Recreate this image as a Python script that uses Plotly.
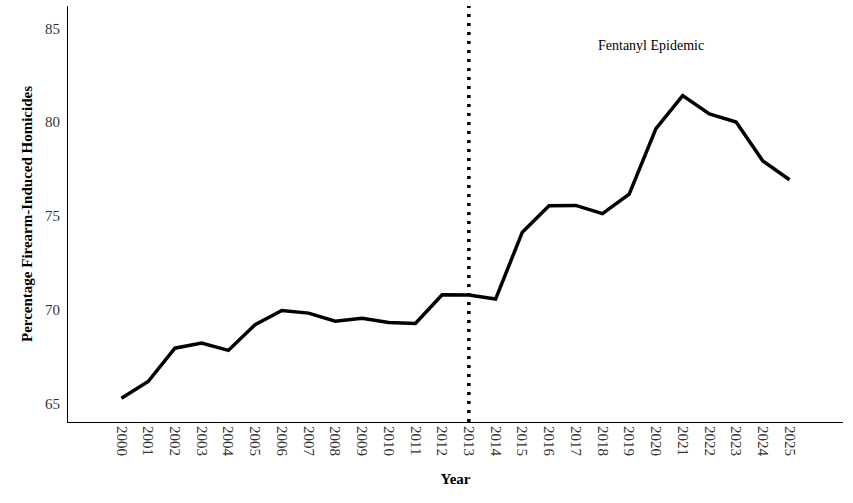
import plotly.graph_objects as go

years = list(range(2000, 2026))
pct_firearm = [65.27, 66.16, 67.94, 68.21, 67.82, 69.19, 69.95, 69.81, 69.38, 69.54,
               69.31, 69.26, 70.79, 70.78, 70.56, 74.13, 75.54, 75.56, 75.12, 76.16,
               79.66, 81.42, 80.44, 80.01, 77.93, 76.93]
epidemic_start = 2013
annotation_text = "Fentanyl Epidemic"
annotation_year = 2019.8
annotation_value = 84.1
y_ticks = [65, 70, 75, 80, 85]

font_family = "Liberation Serif, Times New Roman, serif"

fig = go.Figure()
fig.add_trace(go.Scatter(x=years, y=pct_firearm, mode="lines",
                         line=dict(color="black", width=3.5), showlegend=False))

fig.add_shape(type="line", x0=epidemic_start, x1=epidemic_start, y0=0, y1=1,
              xref="x", yref="paper",
              line=dict(color="black", width=3.5, dash="3px,6px"))

fig.add_annotation(x=annotation_year, y=annotation_value, text=annotation_text,
                   showarrow=False, font=dict(family=font_family, size=14, color="black"))

fig.update_layout(
    width=853, height=503,
    margin=dict(l=68, r=10, t=6, b=81),
    plot_bgcolor="white", paper_bgcolor="white",
    font=dict(family=font_family, color="#333333"),
)
fig.update_xaxes(range=[1998, 2027], tickmode="array", tickvals=years,
                 ticktext=[str(y) for y in years], tickangle=90, automargin=False,
                 tickfont=dict(family=font_family, size=15, color="#333333"),
                 showgrid=False, zeroline=False, showline=True, linecolor="black", linewidth=1.2,
                 ticks="", title=dict(text="<b>Year</b>", font=dict(family=font_family, size=15, color="black"),
                                      standoff=17))
fig.update_yaxes(range=[64, 86.2], tickmode="array", tickvals=y_ticks, automargin=False,
                 tickfont=dict(family=font_family, size=15, color="#333333"),
                 showgrid=False, zeroline=False, showline=True, linecolor="black", linewidth=1.2,
                 ticks="", ticklabelstandoff=4,
                 title=dict(text="<b>Percentage Firearm-Induced Homicides</b>",
                            font=dict(family=font_family, size=15, color="black"), standoff=8))

fig.write_html("out.html", post_script="document.body.style.margin='0';",
               config={"displayModeBar": False})
